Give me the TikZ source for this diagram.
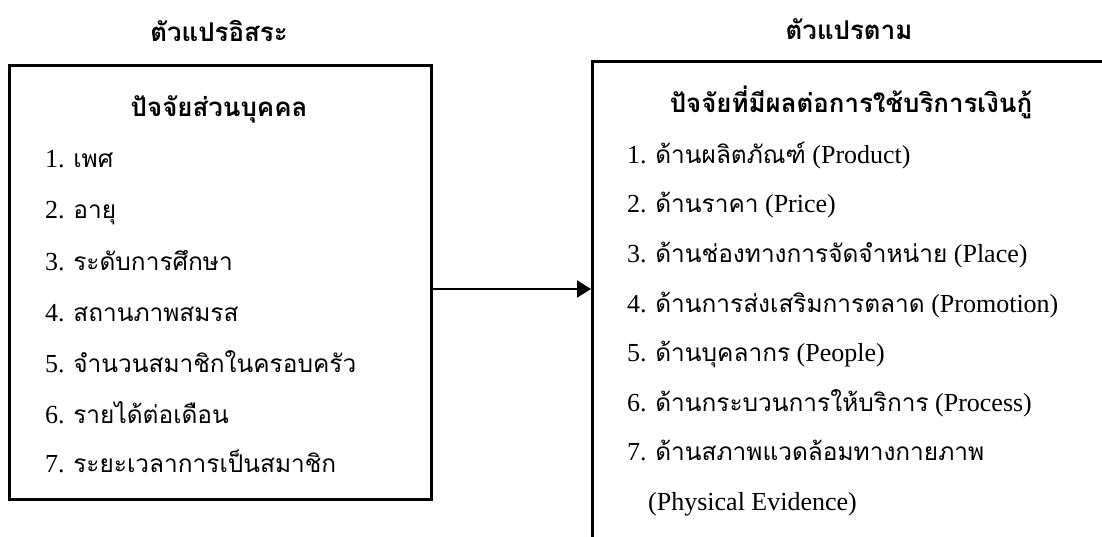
\documentclass[tikz,border=0pt]{standalone}
\usepackage{fontspec}
\setmainfont{Liberation Serif}
\newfontfamily\thaifont[Script=Thai,Scale=0.94]{Loma}
\newcommand{\tha}[1]{{\thaifont #1}}
\usetikzlibrary{arrows.meta}
\begin{document}
\begin{tikzpicture}[x=1pt,y=-1pt,
  box/.style={draw, line width=3pt, rectangle, inner sep=0pt, anchor=north west},
  item/.style={anchor=base west, inner sep=0pt, font=\fontsize{26}{30}\selectfont},
  head/.style={anchor=base, inner sep=0pt, font=\fontsize{27.5}{32}\selectfont\bfseries},
  conn/.style={line width=2pt, -{Triangle[length=14pt,width=17pt]}}]
\clip (0,0) rectangle (1102,537);
\node[box, minimum width=422pt, minimum height=434pt] (lb) at (8,64) {};
\node[box, minimum width=700pt, minimum height=600pt] (rb) at (591,60) {};
\node[head] (t1) at (219,42) {\tha{ตัวแปรอิสระ}};
\node[head] (t2) at (849,40) {\tha{ตัวแปรตาม}};
\node[head] (h1) at (219,117) {\tha{ปัจจัยส่วนบุคคล}};
\node[head] (h2) at (851,113) {\tha{ปัจจัยที่มีผลต่อการใช้บริการเงินกู้}};
\node[item] (l1) at (45,168) {1. \tha{เพศ}};
\node[item] (l2) at (45,219) {2. \tha{อายุ}};
\node[item] (l3) at (45,270) {3. \tha{ระดับการศึกษา}};
\node[item] (l4) at (45,321) {4. \tha{สถานภาพสมรส}};
\node[item] (l5) at (45,372) {5. \tha{จำนวนสมาชิกในครอบครัว}};
\node[item] (l6) at (45,423) {6. \tha{รายได้ต่อเดือน}};
\node[item] (l7) at (45,472) {7. \tha{ระยะเวลาการเป็นสมาชิก}};
\node[item] (r1) at (627,163.5) {1. \tha{ด้านผลิตภัณฑ์} (Product)};
\node[item] (r2) at (627,213) {2. \tha{ด้านราคา} (Price)};
\node[item] (r3) at (627,262.5) {3. \tha{ด้านช่องทางการจัดจำหน่าย} (Place)};
\node[item] (r4) at (627,312) {4. \tha{ด้านการส่งเสริมการตลาด} (Promotion)};
\node[item] (r5) at (627,361.5) {5. \tha{ด้านบุคลากร} (People)};
\node[item] (r6) at (627,411) {6. \tha{ด้านกระบวนการให้บริการ} (Process)};
\node[item] (r7) at (627,460.5) {7. \tha{ด้านสภาพแวดล้อมทางกายภาพ}};
\node[item] (r8) at (648,510) {(Physical Evidence)};
\coordinate (ay) at (500,289);
\draw[conn] (lb.east |- ay) -- (rb.west |- ay);
\end{tikzpicture}
\end{document}
